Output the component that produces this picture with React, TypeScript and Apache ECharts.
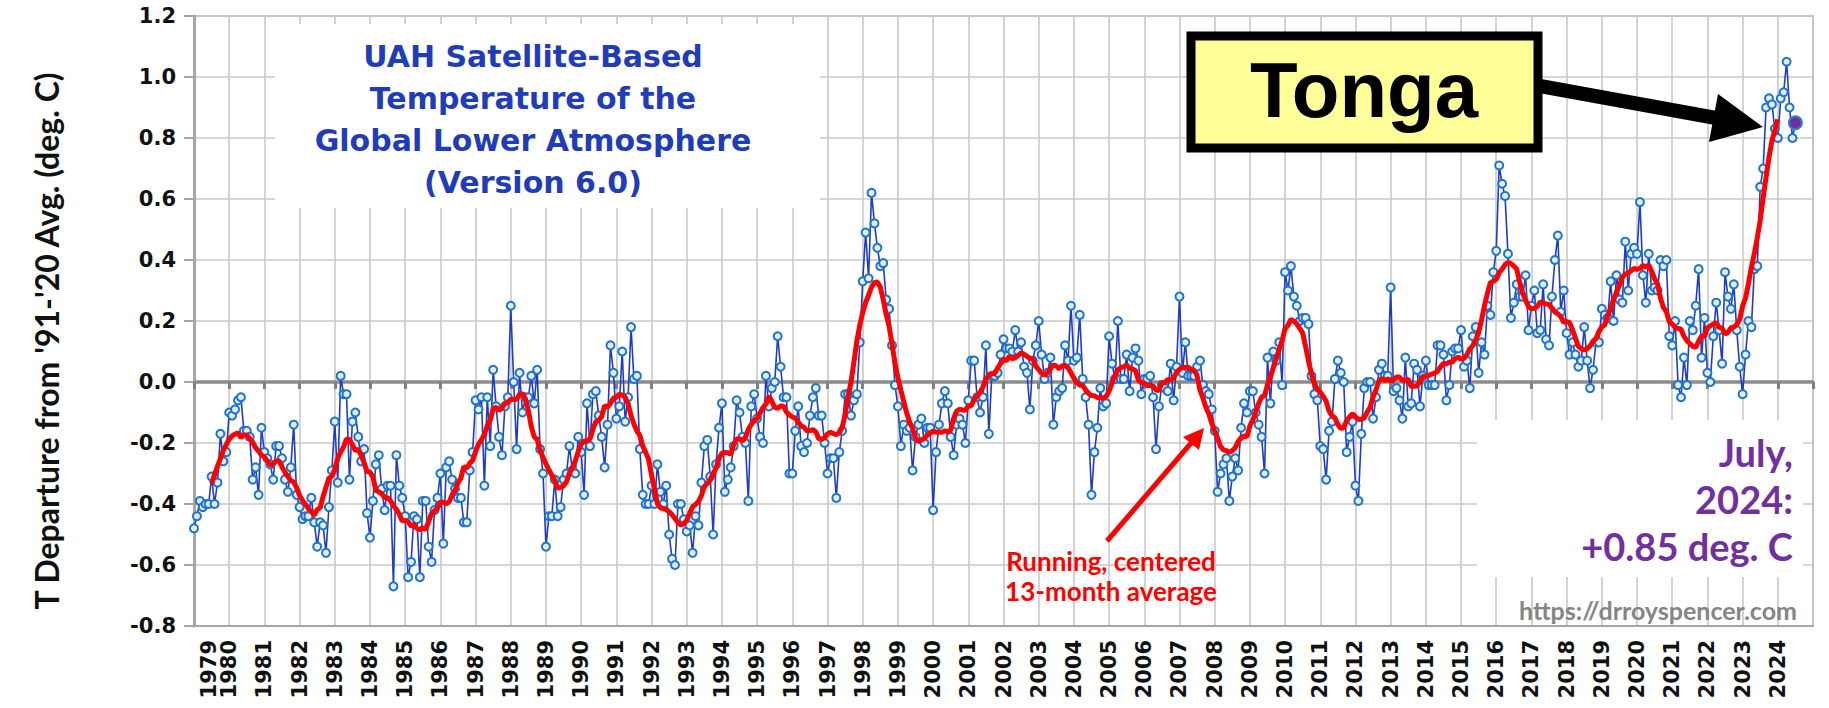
import React, { useEffect, useRef } from "react";
import * as echarts from "echarts";

// Monthly UAH v6.0 global lower-troposphere anomalies (deg C, vs 1991-2020)
const y1979 = [-0.48, -0.44, -0.39, -0.41, -0.40, -0.40, -0.31, -0.40, -0.33, -0.17, -0.26, -0.23];
const y1980 = [-0.10, -0.11, -0.09, -0.06, -0.05, -0.16, -0.16, -0.18, -0.32, -0.28, -0.37, -0.15];
const y1981 = [-0.23, -0.25, -0.27, -0.32, -0.21, -0.21, -0.25, -0.32, -0.36, -0.28, -0.14, -0.37];
const y1982 = [-0.41, -0.45, -0.44, -0.44, -0.38, -0.46, -0.54, -0.46, -0.47, -0.56, -0.41, -0.29];
const y1983 = [-0.13, -0.33, 0.02, -0.04, -0.04, -0.32, -0.13, -0.10, -0.18, -0.26, -0.22, -0.43];
const y1984 = [-0.51, -0.39, -0.27, -0.24, -0.35, -0.42, -0.34, -0.34, -0.67, -0.24, -0.34, -0.38];
const y1985 = [-0.44, -0.64, -0.59, -0.44, -0.45, -0.64, -0.39, -0.39, -0.54, -0.59, -0.42, -0.38];
const y1986 = [-0.30, -0.53, -0.28, -0.26, -0.32, -0.35, -0.38, -0.38, -0.46, -0.46, -0.29, -0.23];
const y1987 = [-0.06, -0.09, -0.05, -0.34, -0.05, -0.21, 0.04, -0.08, -0.18, -0.24, -0.08, -0.05];
const y1988 = [0.25, 0.00, -0.22, 0.03, -0.10, -0.05, -0.05, 0.02, -0.07, 0.04, -0.22, -0.30];
const y1989 = [-0.54, -0.44, -0.44, -0.32, -0.44, -0.41, -0.32, -0.30, -0.21, -0.29, -0.30, -0.18];
const y1990 = [-0.23, -0.37, -0.07, -0.21, -0.04, -0.03, -0.11, -0.18, -0.28, -0.14, 0.12, 0.03];
const y1991 = [-0.12, -0.08, 0.10, -0.13, -0.05, 0.18, 0.01, 0.02, -0.22, -0.37, -0.40, -0.40];
const y1992 = [-0.34, -0.40, -0.27, -0.36, -0.40, -0.34, -0.50, -0.58, -0.60, -0.40, -0.40, -0.45];
const y1993 = [-0.49, -0.47, -0.56, -0.44, -0.47, -0.33, -0.21, -0.19, -0.31, -0.50, -0.27, -0.15];
const y1994 = [-0.07, -0.36, -0.32, -0.28, -0.21, -0.06, -0.10, -0.18, -0.20, -0.39, -0.08, -0.04];
const y1995 = [-0.12, -0.18, -0.20, 0.02, -0.08, -0.02, 0.00, 0.15, 0.05, -0.05, -0.05, -0.30];
const y1996 = [-0.30, -0.16, -0.08, -0.21, -0.23, -0.20, -0.11, -0.05, -0.02, -0.11, -0.11, -0.20];
const y1997 = [-0.30, -0.25, -0.25, -0.38, -0.23, -0.16, -0.04, -0.04, -0.11, -0.06, -0.04, 0.13];
const y1998 = [0.33, 0.49, 0.34, 0.62, 0.52, 0.44, 0.38, 0.39, 0.27, 0.24, 0.12, -0.01];
const y1999 = [-0.08, -0.21, -0.14, -0.16, -0.15, -0.29, -0.18, -0.14, -0.12, -0.20, -0.15, -0.15];
const y2000 = [-0.42, -0.23, -0.14, -0.07, -0.03, -0.07, -0.18, -0.24, -0.14, -0.12, -0.14, -0.20];
const y2001 = [-0.06, 0.07, 0.07, -0.05, -0.10, -0.05, 0.12, -0.17, 0.02, 0.02, 0.03, 0.09];
const y2002 = [0.14, 0.11, 0.11, 0.10, 0.17, 0.10, 0.13, 0.05, 0.03, -0.09, 0.07, 0.12];
const y2003 = [0.20, 0.09, 0.01, 0.03, 0.08, -0.14, -0.05, -0.03, -0.02, 0.12, 0.07, 0.25];
const y2004 = [0.07, 0.08, 0.22, 0.01, -0.05, -0.14, -0.37, -0.23, -0.15, -0.02, -0.08, -0.07];
const y2005 = [0.15, 0.06, 0.01, 0.20, 0.01, 0.01, 0.09, -0.03, 0.08, 0.11, 0.07, -0.04];
const y2006 = [0.01, 0.01, 0.02, -0.05, -0.22, -0.08, -0.01, -0.02, -0.03, 0.06, -0.06, 0.05];
const y2007 = [0.28, 0.03, 0.13, 0.02, 0.02, 0.02, 0.05, 0.07, -0.01, -0.03, -0.04, -0.09];
const y2008 = [-0.16, -0.36, -0.30, -0.27, -0.25, -0.39, -0.31, -0.25, -0.29, -0.15, -0.07, -0.10];
const y2009 = [-0.03, -0.03, -0.10, -0.14, -0.18, -0.30, 0.08, -0.07, 0.10, 0.07, 0.13, -0.01];
const y2010 = [0.36, 0.30, 0.38, 0.28, 0.25, 0.20, 0.21, 0.21, 0.19, 0.02, -0.04, -0.06];
const y2011 = [-0.21, -0.22, -0.32, -0.16, -0.13, 0.01, 0.07, 0.03, 0.00, -0.23, -0.18, -0.13];
const y2012 = [-0.34, -0.39, -0.17, -0.02, 0.00, 0.00, -0.12, -0.05, 0.04, 0.06, 0.02, 0.02];
const y2013 = [0.31, -0.03, -0.02, -0.06, -0.12, 0.08, -0.08, -0.07, 0.06, 0.04, -0.08, 0.02];
const y2014 = [0.07, -0.01, -0.01, -0.01, 0.12, 0.12, 0.09, -0.06, -0.01, 0.10, 0.11, 0.11];
const y2015 = [0.17, 0.05, 0.07, -0.02, 0.15, 0.18, 0.03, 0.13, 0.09, 0.25, 0.22, 0.36];
const y2016 = [0.43, 0.71, 0.65, 0.61, 0.42, 0.21, 0.26, 0.32, 0.28, 0.28, 0.35, 0.17];
const y2017 = [0.25, 0.30, 0.16, 0.17, 0.32, 0.14, 0.12, 0.28, 0.40, 0.48, 0.23, 0.30];
const y2018 = [0.16, 0.09, 0.13, 0.09, 0.05, 0.07, 0.18, 0.07, -0.02, 0.04, 0.13, 0.13];
const y2019 = [0.24, 0.22, 0.21, 0.33, 0.20, 0.35, 0.27, 0.26, 0.46, 0.30, 0.42, 0.44];
const y2020 = [0.42, 0.59, 0.35, 0.26, 0.42, 0.30, 0.31, 0.30, 0.40, 0.38, 0.40, 0.15];
const y2021 = [0.12, 0.20, -0.01, -0.05, 0.08, -0.01, 0.20, 0.17, 0.25, 0.37, 0.08, 0.21];
const y2022 = [0.03, 0.00, 0.15, 0.26, 0.17, 0.06, 0.36, 0.28, 0.24, 0.32, 0.17, 0.05];
const y2023 = [-0.04, 0.09, 0.20, 0.18, 0.37, 0.38, 0.64, 0.70, 0.90, 0.93, 0.91, 0.83];
const y2024 = [0.80, 0.93, 0.95, 1.05, 0.90, 0.80, 0.85];

const yearBlocks = [
  y1979, y1980, y1981, y1982, y1983, y1984, y1985, y1986, y1987, y1988,
  y1989, y1990, y1991, y1992, y1993, y1994, y1995, y1996, y1997, y1998,
  y1999, y2000, y2001, y2002, y2003, y2004, y2005, y2006, y2007, y2008,
  y2009, y2010, y2011, y2012, y2013, y2014, y2015, y2016, y2017, y2018,
  y2019, y2020, y2021, y2022, y2023, y2024,
];

const FIRST_YEAR = 1979;
const LAST_YEAR = 2024;
const AXIS_MONTHS = (LAST_YEAR - FIRST_YEAR + 1) * 12; // Jan 1979 .. end of 2024
const Y_MIN = -0.8;
const Y_MAX = 1.2;
const Y_STEP = 0.2;
const RUNNING_WINDOW = 13;

const titleLines = ["UAH Satellite-Based", "Temperature of the", "Global Lower Atmosphere", "(Version 6.0)"];
const latestLines = ["July,", "2024:", "+0.85 deg. C"];
const runningLines = ["Running, centered", "13-month average"];
const yAxisTitle = "T Departure from '91-'20 Avg. (deg. C)";
const sourceUrl = "https://drroyspencer.com";
const calloutText = "Tonga";
const firstYearLabel = String(FIRST_YEAR);

function centeredRunningMean(values: number[], window: number): [number, number][] {
  const half = Math.floor(window / 2);
  const out: [number, number][] = [];
  for (let i = half; i < values.length - half; i++) {
    let s = 0;
    for (let k = i - half; k <= i + half; k++) s += values[k];
    out.push([i, s / window]);
  }
  return out;
}

export default function App() {
  const ref = useRef<HTMLDivElement>(null);

  useEffect(() => {
    if (!ref.current) return;
    const chart = echarts.init(ref.current, null, { renderer: "svg", width: 1829, height: 708 });

    const monthly: number[] = ([] as number[]).concat(...yearBlocks);
    const lastIdx = monthly.length - 1;
    const blueData = monthly.map((v, i) =>
      i === lastIdx
        ? {
            value: [i, v],
            symbolSize: 13,
            itemStyle: { color: "#7030a0", borderColor: "#2f80d0", borderWidth: 2 },
          }
        : [i, v]
    );
    const redData = centeredRunningMean(monthly, RUNNING_WINDOW);

    const tickFont = "DejaVu Sans";

    const option: any = {
      animation: false,
      backgroundColor: "#ffffff",
      grid: {
        left: 194,
        right: 16,
        top: 16,
        bottom: 82,
        show: true,
        borderColor: "#b8b8b8",
        borderWidth: 2,
        backgroundColor: "transparent",
      },
      xAxis: [
        {
          type: "value",
          min: 0,
          max: AXIS_MONTHS,
          interval: 12,
          position: "bottom",
          axisLine: { onZero: false, lineStyle: { color: "#a6a6a6", width: 2 } },
          axisTick: { show: false },
          axisLabel: {
            rotate: 90,
            margin: 14,
            fontSize: 21,
            fontWeight: "bold",
            fontFamily: tickFont,
            color: "#111111",
            showMaxLabel: false,
            formatter: (v: number) =>
              v > 0 && v % 12 === 0 && v < AXIS_MONTHS ? String(FIRST_YEAR + v / 12) : "",
          },
          splitLine: { show: true, lineStyle: { color: "#c8c8c8", width: 1.6 } },
        },
        {
          type: "value",
          min: 0,
          max: AXIS_MONTHS,
          interval: 12,
          position: "bottom",
          axisLine: { onZero: true, lineStyle: { color: "#8c8c8c", width: 3.5 } },
          axisTick: { show: true, length: 7, lineStyle: { color: "#808080", width: 3 } },
          axisLabel: { show: false },
          splitLine: { show: false },
        },
      ],
      yAxis: {
        type: "value",
        min: Y_MIN,
        max: Y_MAX,
        interval: Y_STEP,
        axisLine: { show: true, onZero: false, lineStyle: { color: "#a6a6a6", width: 3 } },
        axisTick: { show: true, length: 10, lineStyle: { color: "#a6a6a6", width: 2 } },
        axisLabel: {
          margin: 18,
          fontSize: 21,
          fontWeight: "bold",
          fontFamily: tickFont,
          color: "#111111",
          formatter: (v: number) => (Math.abs(v) < 1e-9 ? "0.0" : v.toFixed(1)),
        },
        splitLine: { show: true, lineStyle: { color: "#c8c8c8", width: 1.6 } },
      },
      series: [
        {
          type: "line",
          xAxisIndex: 0,
          data: blueData,
          symbol: "circle",
          symbolSize: 8,
          showSymbol: true,
          showAllSymbol: true,
          lineStyle: { color: "#1f3dc4", width: 1.6 },
          itemStyle: { color: "#e3eefa", borderColor: "#1f74cc", borderWidth: 2 },
          z: 3,
        },
        {
          type: "line",
          xAxisIndex: 0,
          data: redData,
          symbol: "none",
          lineStyle: { color: "#ff0000", width: 5 },
          z: 4,
        },
      ],
      graphic: [
        // First year label (sits just right of the y axis)
        {
          type: "text",
          z: 10,
          x: 209,
          y: 640,
          rotation: Math.PI / 2,
          style: {
            text: firstYearLabel,
            font: 'bold 21px "DejaVu Sans"',
            fill: "#111111",
            align: "right",
            verticalAlign: "middle",
          },
        },
        // Title panel
        {
          type: "rect",
          z: 1,
          shape: { x: 275, y: 24, width: 545, height: 184 },
          style: { fill: "#ffffff" },
        },
        {
          type: "text",
          z: 10,
          x: 533,
          y: 119,
          style: {
            text: titleLines.join("\n"),
            font: 'bold 30px "DejaVu Sans"',
            fill: "#1f3db8",
            align: "center",
            verticalAlign: "middle",
            lineHeight: 42,
          },
        },
        // Latest-month panel
        {
          type: "rect",
          z: 1,
          shape: { x: 1477, y: 420, width: 326, height: 157 },
          style: { fill: "#ffffff" },
        },
        {
          type: "text",
          z: 10,
          x: 1793,
          y: 499,
          style: {
            text: latestLines.join("\n"),
            font: 'bold 38px "Lato"',
            fill: "#7030a0",
            align: "right",
            verticalAlign: "middle",
            lineHeight: 47,
          },
        },
        {
          type: "text",
          z: 10,
          x: 1797,
          y: 610,
          style: {
            text: sourceUrl,
            font: 'bold 25px "Lato"',
            fill: "#858585",
            align: "right",
            verticalAlign: "middle",
          },
        },
        // Running mean annotation
        {
          type: "text",
          z: 10,
          x: 1111,
          y: 576,
          style: {
            text: runningLines.join("\n"),
            font: 'bold 26px "Lato"',
            fill: "#ff0000",
            align: "center",
            verticalAlign: "middle",
            lineHeight: 30,
          },
        },
        {
          type: "line",
          z: 10,
          shape: { x1: 1107, y1: 541, x2: 1192, y2: 442 },
          style: { stroke: "#ff0000", lineWidth: 5 },
        },
        {
          type: "polygon",
          z: 10,
          shape: { points: [[1204, 428], [1199, 450], [1183, 437]] },
          style: { fill: "#ff0000" },
        },
        // Tonga callout
        {
          type: "line",
          z: 10,
          shape: { x1: 1540, y1: 86, x2: 1716, y2: 118 },
          style: { stroke: "#000000", lineWidth: 14 },
        },
        {
          type: "polygon",
          z: 10,
          shape: { points: [[1763, 127], [1718, 94], [1709, 142]] },
          style: { fill: "#000000" },
        },
        {
          type: "rect",
          z: 11,
          shape: { x: 1191, y: 36, width: 347, height: 112 },
          style: { fill: "#ffff99", stroke: "#000000", lineWidth: 9 },
        },
        {
          type: "text",
          z: 12,
          x: 1364,
          y: 90,
          style: {
            text: calloutText,
            font: 'bold 78px "Liberation Sans"',
            fill: "#000000",
            align: "center",
            verticalAlign: "middle",
          },
        },
        // Y axis title
        {
          type: "text",
          z: 10,
          x: 46,
          y: 341,
          rotation: Math.PI / 2,
          style: {
            text: yAxisTitle,
            font: 'bold 32px "Lato"',
            fill: "#111111",
            align: "center",
            verticalAlign: "middle",
          },
        },
      ],
    };

    chart.setOption(option);
    return () => chart.dispose();
  }, []);

  return (
    <div
      ref={ref}
      style={{ position: "fixed", left: 0, top: 0, width: 1829, height: 708, background: "#ffffff" }}
    />
  );
}
